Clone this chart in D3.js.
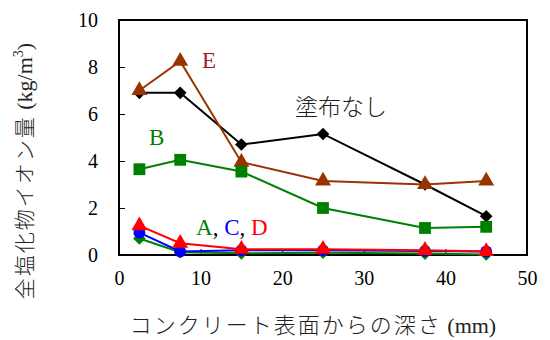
<!DOCTYPE html>
<html>
<head>
<meta charset="utf-8">
<script src="https://cdn.jsdelivr.net/npm/d3@7"></script>
<style>
  html, body { margin: 0; padding: 0; background: #fff; }
  svg { display: block; }
</style>
</head>
<body>
<svg id="chart" width="550" height="340"></svg>
<script>
// Depth from the concrete surface (mm)
const depths = [2.5, 7.5, 15, 25, 37.5, 45];

// Total chloride ion content (kg/m3) per treatment
const seriesNone = [6.9, 6.9, 4.7, 5.15, 3.0, 1.65];
const seriesA = [0.7, 0.12, 0.07, 0.1, 0.06, 0.02];
const seriesB = [3.65, 4.05, 3.55, 2.0, 1.15, 1.2];
const seriesC = [0.95, 0.15, 0.2, 0.2, 0.17, 0.15];
const seriesD = [1.25, 0.5, 0.25, 0.25, 0.2, 0.15];
const seriesE = [7.0, 8.25, 3.95, 3.15, 3.0, 3.15];

const xTicks = [0, 10, 20, 30, 40, 50];
const yTicks = [0, 2, 4, 6, 8, 10];

// Diamonds are squares turned by 45 degrees
const series = [
  { name: "塗布なし", values: seriesNone, color: "#000000", symbol: d3.symbolSquare, size: 80, rot: 45 },
  { name: "E", values: seriesE, color: "#993300", symbol: d3.symbolTriangle, size: 110, rot: 0 },
  { name: "A", values: seriesA, color: "#008000", symbol: d3.symbolSquare, size: 80, rot: 45 },
  { name: "B", values: seriesB, color: "#008000", symbol: d3.symbolSquare, size: 140, rot: 0 },
  { name: "C", values: seriesC, color: "#0000FF", symbol: d3.symbolCircle, size: 110, rot: 0 },
  { name: "D", values: seriesD, color: "#FF0000", symbol: d3.symbolTriangle, size: 110, rot: 0 }
];

const svg = d3.select("#chart");
const plotL = 119, plotR = 527, plotT = 20, plotB = 255;

const x = d3.scaleLinear().domain([0, 50]).range([plotL, plotR]);
const y = d3.scaleLinear().domain([0, 10]).range([plotB, plotT]);

const serif = "'Liberation Serif', 'Times New Roman', serif";
const cjk = "'Noto Sans CJK JP', sans-serif";

// Plot frame
svg.append("rect")
  .attr("x", plotL).attr("y", plotT)
  .attr("width", plotR - plotL).attr("height", plotB - plotT)
  .attr("fill", "none").attr("stroke", "#000").attr("stroke-width", 2);

// Axes with inward ticks
const xAxis = svg.append("g").attr("transform", `translate(0,${plotB})`)
  .call(d3.axisBottom(x).tickValues(xTicks).tickSizeInner(-6).tickSizeOuter(0).tickPadding(30));
const yAxis = svg.append("g").attr("transform", `translate(${plotL},0)`)
  .call(d3.axisLeft(y).tickValues(yTicks).tickSizeInner(-6).tickSizeOuter(0).tickPadding(21));
[xAxis, yAxis].forEach(g => {
  g.attr("font-family", null).attr("font-size", null);
  g.select(".domain").remove();
  g.selectAll(".tick line").attr("stroke", "#000").attr("stroke-width", 1);
  g.selectAll(".tick text")
    .style("font-family", serif).style("font-size", "20px").attr("fill", "#000");
});
xAxis.selectAll(".tick text").attr("dy", "0");
yAxis.selectAll(".tick text").attr("dy", "0.34em");

// Lines and markers
const line = d3.line().x((d, i) => x(depths[i])).y(d => y(d));
series.forEach(s => {
  const g = svg.append("g");
  g.append("path").datum(s.values)
    .attr("d", line).attr("fill", "none")
    .attr("stroke", s.color).attr("stroke-width", 2);
  g.selectAll("path.pt").data(s.values).enter().append("path")
    .attr("class", "pt")
    .attr("transform", (d, i) => `translate(${x(depths[i])},${y(d)}) rotate(${s.rot})`)
    .attr("d", d3.symbol().type(s.symbol).size(s.size))
    .attr("fill", s.color);
});

// Series labels
svg.append("text").attr("x", 202).attr("y", 68)
  .style("font-family", serif).style("font-size", "23px").attr("fill", "#A01E1E").text("E");
svg.append("text").attr("x", 149).attr("y", 145)
  .style("font-family", serif).style("font-size", "23px").attr("fill", "#008000").text("B");
svg.append("text").attr("x", 295).attr("y", 115)
  .style("font-family", cjk).style("font-weight", 300).style("font-size", "23px")
  .attr("fill", "#222").text("塗布なし");
const acd = svg.append("text").attr("x", 196).attr("y", 235)
  .style("font-family", serif).style("font-size", "23px");
acd.append("tspan").attr("fill", "#008000").text("A");
acd.append("tspan").attr("fill", "#000").text(", ");
acd.append("tspan").attr("fill", "#0000FF").text("C");
acd.append("tspan").attr("fill", "#000").text(", ");
acd.append("tspan").attr("fill", "#FF0000").text("D");

// Axis titles
const xt = svg.append("text").attr("x", 313).attr("y", 333)
  .attr("text-anchor", "middle").attr("fill", "#222");
xt.append("tspan").style("font-family", cjk).style("font-weight", 300)
  .style("font-size", "22px").style("letter-spacing", "2px").text("コンクリート表面からの深さ");
xt.append("tspan").style("font-family", serif).style("font-size", "22px").text(" (mm)");

const yt = svg.append("text")
  .attr("transform", "translate(32,171) rotate(-90)")
  .attr("text-anchor", "middle").attr("fill", "#222");
yt.append("tspan").style("font-family", cjk).style("font-weight", 300)
  .style("font-size", "21px").style("letter-spacing", "2px").text("全塩化物イオン量");
yt.append("tspan").style("font-family", serif).style("font-size", "22px").text(" (kg/m");
yt.append("tspan").style("font-family", serif).style("font-size", "14px").attr("dy", -9).text("3");
yt.append("tspan").style("font-family", serif).style("font-size", "22px").attr("dy", 9).text(")");
</script>
</body>
</html>
